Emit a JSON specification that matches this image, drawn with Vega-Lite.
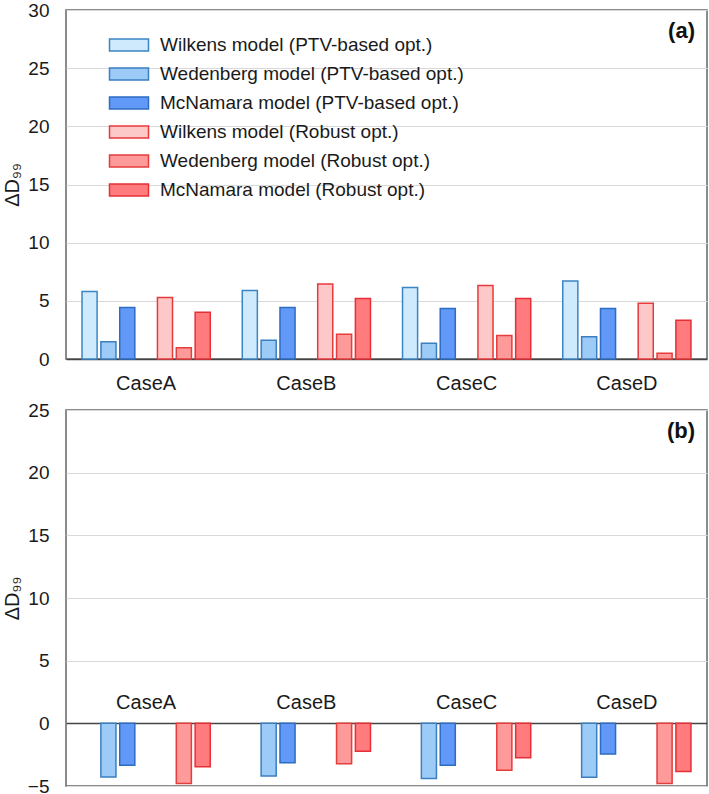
{
  "$schema": "https://vega.github.io/schema/vega-lite/v6.json",
  "padding": {"left": 1, "top": 0, "right": 2, "bottom": 0},
  "background": "white",
  "spacing": 6,
  "config": {
    "font": "Liberation Sans",
    "view": {"stroke": "#666666", "strokeWidth": 1.5},
    "axis": {"labelFont": "Liberation Sans", "titleFont": "Liberation Sans", "labelColor": "#1a1a1a", "titleColor": "#1a1a1a"}
  },
  "datasets": {
    "bars": [
      {"panel": "a", "case": "CaseA", "model": "Wilkens model (PTV-based opt.)", "value": 5.8},
      {"panel": "a", "case": "CaseA", "model": "Wedenberg model (PTV-based opt.)", "value": 1.49},
      {"panel": "a", "case": "CaseA", "model": "McNamara model (PTV-based opt.)", "value": 4.42},
      {"panel": "a", "case": "CaseA", "model": "Wilkens model (Robust opt.)", "value": 5.28},
      {"panel": "a", "case": "CaseA", "model": "Wedenberg model (Robust opt.)", "value": 0.97},
      {"panel": "a", "case": "CaseA", "model": "McNamara model (Robust opt.)", "value": 4.02},
      {"panel": "a", "case": "CaseB", "model": "Wilkens model (PTV-based opt.)", "value": 5.89},
      {"panel": "a", "case": "CaseB", "model": "Wedenberg model (PTV-based opt.)", "value": 1.61},
      {"panel": "a", "case": "CaseB", "model": "McNamara model (PTV-based opt.)", "value": 4.42},
      {"panel": "a", "case": "CaseB", "model": "Wilkens model (Robust opt.)", "value": 6.44},
      {"panel": "a", "case": "CaseB", "model": "Wedenberg model (Robust opt.)", "value": 2.13},
      {"panel": "a", "case": "CaseB", "model": "McNamara model (Robust opt.)", "value": 5.2},
      {"panel": "a", "case": "CaseC", "model": "Wilkens model (PTV-based opt.)", "value": 6.15},
      {"panel": "a", "case": "CaseC", "model": "Wedenberg model (PTV-based opt.)", "value": 1.35},
      {"panel": "a", "case": "CaseC", "model": "McNamara model (PTV-based opt.)", "value": 4.34},
      {"panel": "a", "case": "CaseC", "model": "Wilkens model (Robust opt.)", "value": 6.32},
      {"panel": "a", "case": "CaseC", "model": "Wedenberg model (Robust opt.)", "value": 2.01},
      {"panel": "a", "case": "CaseC", "model": "McNamara model (Robust opt.)", "value": 5.2},
      {"panel": "a", "case": "CaseD", "model": "Wilkens model (PTV-based opt.)", "value": 6.7},
      {"panel": "a", "case": "CaseD", "model": "Wedenberg model (PTV-based opt.)", "value": 1.92},
      {"panel": "a", "case": "CaseD", "model": "McNamara model (PTV-based opt.)", "value": 4.34},
      {"panel": "a", "case": "CaseD", "model": "Wilkens model (Robust opt.)", "value": 4.8},
      {"panel": "a", "case": "CaseD", "model": "Wedenberg model (Robust opt.)", "value": 0.49},
      {"panel": "a", "case": "CaseD", "model": "McNamara model (Robust opt.)", "value": 3.33},
      {"panel": "b", "case": "CaseA", "model": "Wilkens model (PTV-based opt.)", "value": null},
      {"panel": "b", "case": "CaseA", "model": "Wedenberg model (PTV-based opt.)", "value": -4.28},
      {"panel": "b", "case": "CaseA", "model": "McNamara model (PTV-based opt.)", "value": -3.35},
      {"panel": "b", "case": "CaseA", "model": "Wilkens model (Robust opt.)", "value": null},
      {"panel": "b", "case": "CaseA", "model": "Wedenberg model (Robust opt.)", "value": -4.81},
      {"panel": "b", "case": "CaseA", "model": "McNamara model (Robust opt.)", "value": -3.46},
      {"panel": "b", "case": "CaseB", "model": "Wilkens model (PTV-based opt.)", "value": null},
      {"panel": "b", "case": "CaseB", "model": "Wedenberg model (PTV-based opt.)", "value": -4.2},
      {"panel": "b", "case": "CaseB", "model": "McNamara model (PTV-based opt.)", "value": -3.14},
      {"panel": "b", "case": "CaseB", "model": "Wilkens model (Robust opt.)", "value": null},
      {"panel": "b", "case": "CaseB", "model": "Wedenberg model (Robust opt.)", "value": -3.22},
      {"panel": "b", "case": "CaseB", "model": "McNamara model (Robust opt.)", "value": -2.23},
      {"panel": "b", "case": "CaseC", "model": "Wilkens model (PTV-based opt.)", "value": null},
      {"panel": "b", "case": "CaseC", "model": "Wedenberg model (PTV-based opt.)", "value": -4.41},
      {"panel": "b", "case": "CaseC", "model": "McNamara model (PTV-based opt.)", "value": -3.35},
      {"panel": "b", "case": "CaseC", "model": "Wilkens model (Robust opt.)", "value": null},
      {"panel": "b", "case": "CaseC", "model": "Wedenberg model (Robust opt.)", "value": -3.75},
      {"panel": "b", "case": "CaseC", "model": "McNamara model (Robust opt.)", "value": -2.74},
      {"panel": "b", "case": "CaseD", "model": "Wilkens model (PTV-based opt.)", "value": null},
      {"panel": "b", "case": "CaseD", "model": "Wedenberg model (PTV-based opt.)", "value": -4.31},
      {"panel": "b", "case": "CaseD", "model": "McNamara model (PTV-based opt.)", "value": -2.45},
      {"panel": "b", "case": "CaseD", "model": "Wilkens model (Robust opt.)", "value": null},
      {"panel": "b", "case": "CaseD", "model": "Wedenberg model (Robust opt.)", "value": -4.81},
      {"panel": "b", "case": "CaseD", "model": "McNamara model (Robust opt.)", "value": -3.85}
    ]
  },
  "resolve": {"legend": {"color": "independent", "stroke": "independent"}},
  "vconcat": [
    {
      "width": 641,
      "height": 349,
      "data": {"name": "bars"},
      "transform": [{"filter": "datum.panel === 'a'"}],
      "title": {"text": "(a)", "anchor": "end", "offset": -42, "dx": -12, "fontSize": 22, "fontWeight": "bold", "font": "Liberation Sans", "color": "#111111"},
      "mark": {"type": "bar", "strokeWidth": 1.5},
      "encoding": {
        "x": {"field": "case", "type": "nominal", "sort": ["CaseA", "CaseB", "CaseC", "CaseD"],
              "scale": {"paddingInner": 0.2, "paddingOuter": 0.1},
              "axis": {"title": null, "labelAngle": 0, "labelFontSize": 20, "labelPadding": 14, "ticks": false, "domainColor": "#444444", "domainWidth": 1.5}},
        "xOffset": {"field": "model", "type": "nominal",
              "scale": {"domain": ["Wilkens model (PTV-based opt.)", "Wedenberg model (PTV-based opt.)", "McNamara model (PTV-based opt.)", "gap", "Wilkens model (Robust opt.)", "Wedenberg model (Robust opt.)", "McNamara model (Robust opt.)"], "paddingInner": 0.2, "paddingOuter": 0}},
        "y": {"field": "value", "type": "quantitative",
              "scale": {"domain": [0, 30], "nice": false},
              "axis": {"title": "ΔD₉₉", "titleFontSize": 20, "titleFontWeight": "normal", "titlePadding": 5, "values": [0, 5, 10, 15, 20, 25, 30], "labelFontSize": 19, "labelPadding": 17, "ticks": false, "domain": false, "gridColor": "#d9d9d9", "gridWidth": 1.2}},
        "color": {"field": "model", "type": "nominal",
              "scale": {"domain": ["Wilkens model (PTV-based opt.)", "Wedenberg model (PTV-based opt.)", "McNamara model (PTV-based opt.)", "Wilkens model (Robust opt.)", "Wedenberg model (Robust opt.)", "McNamara model (Robust opt.)"],
                        "range": ["#cfeafd", "#9dcbf8", "#6298f7", "#fdc8c8", "#fe9a9a", "#ff7b7d"]},
              "legend": {"title": null, "orient": "none", "legendX": 47, "legendY": 19, "padding": 0, "labelFontSize": 19, "labelFont": "Liberation Sans", "labelColor": "#1a1a1a", "labelOffset": 15, "symbolType": "M-1.3,-0.4H1.3V0.4H-1.3Z", "symbolSize": 900, "symbolStrokeWidth": 1.5, "rowPadding": 3, "labelLimit": 400}},
        "stroke": {"field": "model", "type": "nominal",
              "scale": {"domain": ["Wilkens model (PTV-based opt.)", "Wedenberg model (PTV-based opt.)", "McNamara model (PTV-based opt.)", "Wilkens model (Robust opt.)", "Wedenberg model (Robust opt.)", "McNamara model (Robust opt.)"],
                        "range": ["#3a85c4", "#3b7fc0", "#2d6cc2", "#e8393d", "#e53c3c", "#e63036"]},
              "legend": {"title": null, "orient": "none", "legendX": 47, "legendY": 19, "padding": 0, "labelFontSize": 19, "labelFont": "Liberation Sans", "labelColor": "#1a1a1a", "labelOffset": 15, "symbolType": "M-1.3,-0.4H1.3V0.4H-1.3Z", "symbolSize": 900, "symbolStrokeWidth": 1.5, "rowPadding": 3, "labelLimit": 400}}
      }
    },
    {
      "width": 641,
      "height": 376,
      "data": {"name": "bars"},
      "transform": [{"filter": "datum.panel === 'b'"}],
      "title": {"text": "(b)", "anchor": "end", "offset": -42, "dx": -12, "fontSize": 22, "fontWeight": "bold", "font": "Liberation Sans", "color": "#111111"},
      "mark": {"type": "bar", "strokeWidth": 1.5},
      "encoding": {
        "x": {"field": "case", "type": "nominal", "sort": ["CaseA", "CaseB", "CaseC", "CaseD"],
              "scale": {"paddingInner": 0.2, "paddingOuter": 0.1},
              "axis": {"title": null, "orient": "top", "offset": -313, "labelAngle": 0, "labelFontSize": 20, "labelPadding": 11, "ticks": false, "domainColor": "#444444", "domainWidth": 1.5}},
        "xOffset": {"field": "model", "type": "nominal",
              "scale": {"domain": ["Wilkens model (PTV-based opt.)", "Wedenberg model (PTV-based opt.)", "McNamara model (PTV-based opt.)", "gap", "Wilkens model (Robust opt.)", "Wedenberg model (Robust opt.)", "McNamara model (Robust opt.)"], "paddingInner": 0.2, "paddingOuter": 0}},
        "y": {"field": "value", "type": "quantitative",
              "scale": {"domain": [-5, 25], "nice": false, "zero": false},
              "axis": {"title": "ΔD₉₉", "titleFontSize": 20, "titleFontWeight": "normal", "titlePadding": 5, "values": [-5, 0, 5, 10, 15, 20, 25], "labelFontSize": 19, "labelPadding": 17, "ticks": false, "domain": false, "gridColor": "#d9d9d9", "gridWidth": 1.2}},
        "color": {"field": "model", "type": "nominal",
              "scale": {"domain": ["Wilkens model (PTV-based opt.)", "Wedenberg model (PTV-based opt.)", "McNamara model (PTV-based opt.)", "Wilkens model (Robust opt.)", "Wedenberg model (Robust opt.)", "McNamara model (Robust opt.)"],
                        "range": ["#cfeafd", "#9dcbf8", "#6298f7", "#fdc8c8", "#fe9a9a", "#ff7b7d"]},
              "legend": null},
        "stroke": {"field": "model", "type": "nominal",
              "scale": {"domain": ["Wilkens model (PTV-based opt.)", "Wedenberg model (PTV-based opt.)", "McNamara model (PTV-based opt.)", "Wilkens model (Robust opt.)", "Wedenberg model (Robust opt.)", "McNamara model (Robust opt.)"],
                        "range": ["#3a85c4", "#3b7fc0", "#2d6cc2", "#e8393d", "#e53c3c", "#e63036"]},
              "legend": null}
      }
    }
  ]
}
